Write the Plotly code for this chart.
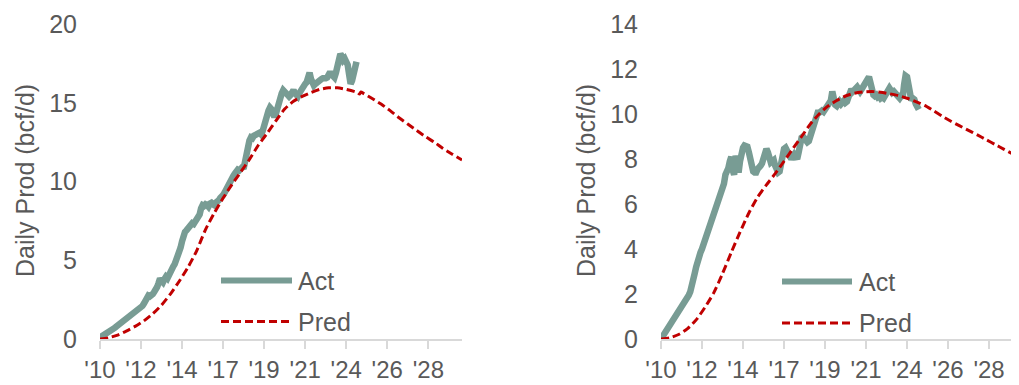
import pandas as pd
import plotly.graph_objects as go

# ---------------- data ----------------
# Left panel: monthly actual production, Jan 2010 .. Aug 2024 (bcf/d)
left_act = [
    0.10, 0.15, 0.20, 0.25, 0.30, 0.35, 0.40, 0.48, 0.55, 0.62, 0.70, 0.78,
    0.85, 0.92, 1.00, 1.08, 1.15, 1.25, 1.35, 1.42, 1.48, 1.50, 1.55, 1.60,
    1.68, 1.75, 1.82, 1.90, 2.00, 2.10, 2.25, 2.45, 2.65, 2.75, 2.70, 2.75,
    2.85, 3.00, 3.10, 3.30, 3.55, 3.85, 3.70, 3.60, 3.80, 3.95, 3.85, 4.10,
    4.30, 4.50, 4.60, 4.75, 4.95, 5.25, 5.50, 5.80, 6.20, 6.60, 6.80, 6.90,
    7.00, 7.15, 7.30, 7.35, 7.30, 7.45, 7.50, 7.60, 7.90, 8.30, 8.50, 8.45,
    8.55, 8.50, 8.40, 8.60, 8.65, 8.55, 8.50, 8.65, 8.70, 8.80, 8.95, 9.00,
    9.15, 9.30, 9.50, 9.70, 9.90, 10.10, 10.30, 10.35, 10.50, 10.70, 10.75, 10.70,
    10.85, 10.90, 10.80, 11.30, 11.90, 12.30, 12.60, 12.80, 12.75, 12.90, 13.00, 12.95,
    13.05, 13.10, 13.00, 13.20, 13.60, 14.00, 14.30, 14.50, 14.70, 14.60, 14.30, 14.10,
    14.30, 14.70, 15.00, 15.30, 15.60, 15.80, 15.70, 15.50, 15.35, 15.40, 15.50, 15.70,
    15.80, 15.60, 15.50, 15.40, 15.60, 15.80, 15.90, 16.00, 16.20, 16.30, 16.50, 16.90,
    16.50, 16.20, 16.10, 16.20, 16.30, 16.40, 16.40, 16.50, 16.55, 16.50, 16.55, 16.60,
    16.80, 16.95, 16.80, 16.70, 16.60, 16.90, 17.40, 17.90, 18.10, 17.95, 17.70, 17.80,
    17.60, 17.40, 16.80, 16.20, 16.40, 16.95, 17.30, 17.60,
]
# Left panel: predicted curve (months since Jan 2010 -> bcf/d)
left_pred_month = [0, 6, 12, 18, 24, 30, 36, 42, 48, 54, 60, 66, 72, 78, 84, 90,
                   96, 102, 108, 114, 120, 126, 132, 138, 144, 150, 156, 162,
                   168, 174, 176, 177, 178, 180, 186, 192, 198, 204, 210, 216,
                   222, 228, 234, 240, 247]
left_pred = [0.0, 0.08, 0.25, 0.50, 0.80, 1.15, 1.60, 2.15, 2.85, 3.65, 4.55,
             5.60, 6.95, 8.00, 8.95, 9.80, 10.60, 11.40, 12.30, 13.05, 13.85,
             14.60, 15.10, 15.40, 15.65, 15.85, 15.95, 15.95, 15.85, 15.70,
             15.62, 15.55, 15.68, 15.58, 15.25, 14.90, 14.50, 14.05, 13.65,
             13.25, 12.85, 12.50, 12.10, 11.75, 11.37]

# Right panel: monthly actual production, Jan 2010 .. Sep 2024 (bcf/d)
right_act = [
    0.00, 0.10, 0.20, 0.30, 0.40, 0.50, 0.60, 0.70, 0.80, 0.90, 1.00, 1.10,
    1.20, 1.30, 1.40, 1.50, 1.60, 1.70, 1.80, 1.95, 2.10, 2.30, 2.60, 2.90,
    3.20, 3.50, 3.70, 3.85, 4.00, 4.20, 4.40, 4.60, 4.80, 5.00, 5.20, 5.40,
    5.50, 5.70, 5.90, 6.10, 6.30, 6.50, 6.60, 6.90, 7.30, 7.40, 7.60, 7.90,
    8.10, 7.50, 7.30, 8.15, 7.70, 7.40, 7.90, 8.30, 8.50, 8.60, 8.60, 8.55,
    8.30, 7.90, 7.60, 7.45, 7.40, 7.40, 7.55, 7.70, 7.70, 7.80, 8.10, 8.40,
    8.45, 8.30, 8.00, 7.85, 7.90, 7.95, 7.70, 7.50, 7.40, 7.45, 7.90, 8.30,
    8.45, 8.50, 8.40, 8.20, 8.05, 8.00, 8.10, 8.20, 8.10, 8.00, 8.30, 8.70,
    8.95, 9.00, 8.90, 8.80, 8.75, 8.80, 9.00, 9.30, 9.60, 9.80, 9.95, 10.05,
    10.05, 10.10, 10.15, 10.10, 10.20, 10.30, 10.35, 10.45, 10.60, 11.00, 10.60, 10.40,
    10.35, 10.50, 10.55, 10.45, 10.50, 10.60, 10.50, 10.55, 10.75, 11.00, 11.10, 11.00,
    11.05, 11.15, 11.20, 11.10, 11.00, 11.10, 11.20, 11.30, 11.35, 11.45, 11.65, 11.40,
    11.00, 10.85, 10.80, 10.85, 10.75, 10.80, 10.70, 10.75, 10.70, 10.80, 10.90, 11.05,
    11.15, 11.05, 10.95, 11.00, 10.90, 10.80, 10.75, 10.70, 10.80, 10.70, 11.30, 11.70,
    11.65, 11.30, 10.80, 10.60, 10.70, 10.65, 10.45, 10.25, 10.20,
]
right_pred_month = [0, 6, 12, 18, 24, 30, 36, 42, 48, 54, 60, 66, 72, 78, 84, 90,
                    96, 102, 108, 114, 120, 126, 132, 138, 144, 150, 156, 162,
                    168, 174, 180, 186, 192, 198, 204, 210, 216, 222, 228, 234,
                    240, 246]
right_pred = [0.0, 0.05, 0.20, 0.45, 0.85, 1.40, 2.05, 2.90, 3.85, 4.75, 5.60,
              6.30, 6.85, 7.35, 7.90, 8.45, 9.00, 9.55, 10.00, 10.35, 10.60,
              10.80, 10.92, 10.98, 11.00, 10.97, 10.90, 10.82, 10.70, 10.55,
              10.38, 10.15, 9.90, 9.68, 9.47, 9.27, 9.07, 8.86, 8.65, 8.44,
              8.23, 8.02]

tick_dates = ["2010-01-01", "2012-05-01", "2014-09-01", "2017-01-01", "2019-05-01",
              "2021-09-01", "2024-01-01", "2026-05-01", "2028-09-01"]
tick_text = ["'10", "'12", "'14", "'17", "'19", "'21", "'24", "'26", "'28"]
left_yticks = [0, 5, 10, 15, 20]
right_yticks = [0, 2, 4, 6, 8, 10, 12, 14]
y_title = "Daily Prod (bcf/d)"
series_names = ["Act", "Pred"]

# ---------------- helpers ----------------
start = pd.Timestamp("2010-01-01")


def month_dates(months):
    return [start + pd.DateOffset(months=int(m)) for m in months]


left_act_x = month_dates(range(len(left_act)))
right_act_x = month_dates(range(len(right_act)))
left_pred_x = month_dates(left_pred_month)
right_pred_x = month_dates(right_pred_month)

# The page body has an 8px default margin: size the figure so it fills the
# window exactly and convert window pixels to figure pixels.
OFF = 8
W, H = 1019 - OFF, 385 - OFF
ACT_COLOR = "#789C94"
PRED_COLOR = "#C00000"
TXT = "#595959"
AXIS = "#D9D9D9"
FONT = "Liberation Sans, Arial, sans-serif"
FS = 25


def px_x(p):
    return (p - OFF) / W


def px_y(p):
    return 1 - (p - OFF) / H


fig = go.Figure()

fig.add_trace(go.Scatter(x=left_act_x, y=left_act, mode="lines", name=series_names[0],
                         line=dict(color=ACT_COLOR, width=6.5), xaxis="x", yaxis="y",
                         showlegend=False))
fig.add_trace(go.Scatter(x=left_pred_x, y=left_pred, mode="lines", name=series_names[1],
                         line=dict(color=PRED_COLOR, width=3, dash="8px,4px",
                                   shape="spline", smoothing=0.6),
                         xaxis="x", yaxis="y", showlegend=False))
fig.add_trace(go.Scatter(x=right_act_x, y=right_act, mode="lines", name=series_names[0],
                         line=dict(color=ACT_COLOR, width=6.5), xaxis="x2", yaxis="y2",
                         showlegend=False))
fig.add_trace(go.Scatter(x=right_pred_x, y=right_pred, mode="lines", name=series_names[1],
                         line=dict(color=PRED_COLOR, width=3, dash="8px,4px",
                                   shape="spline", smoothing=0.6),
                         xaxis="x2", yaxis="y2", showlegend=False))

y_dom = [px_y(339), px_y(24)]

xcommon = dict(type="date", tickmode="array", tickvals=tick_dates, ticktext=tick_text,
               showline=True, linecolor=AXIS, linewidth=2, ticks="outside",
               ticklen=8, tickwidth=2, tickcolor=AXIS, showgrid=False, zeroline=False,
               tickfont=dict(family=FONT, size=24, color=TXT), ticklabelstandoff=0,
               automargin=False, fixedrange=True)
ycommon = dict(showline=False, showgrid=False, zeroline=False, ticks="",
               tickfont=dict(family=FONT, size=FS, color=TXT), ticklabelstandoff=22,
               automargin=False, domain=y_dom, fixedrange=True)

fig.update_layout(
    width=W, height=H,
    margin=dict(l=0, r=0, t=0, b=0),
    paper_bgcolor="white", plot_bgcolor="white",
    xaxis=dict(domain=[px_x(100), px_x(462)], anchor="y",
               range=[start, start + pd.DateOffset(months=247)], **xcommon),
    yaxis=dict(anchor="x", range=[0, 20], tickvals=left_yticks, **ycommon),
    xaxis2=dict(domain=[px_x(661), 1.0], anchor="y2",
                range=[start, start + pd.DateOffset(months=244, days=15)], **xcommon),
    yaxis2=dict(anchor="x2", range=[0, 14], tickvals=right_yticks, **ycommon),
    showlegend=False,
)

# axis titles
for xc in (25, 586):
    fig.add_annotation(x=px_x(xc), y=px_y(181), xref="paper", yref="paper",
                       text=y_title, textangle=-90, showarrow=False,
                       font=dict(family=FONT, size=FS, color=TXT),
                       xanchor="center", yanchor="middle")

# legends (one per panel)
for (x0, x1, ya, yp, xt) in ((221, 292, 280.5, 321.5, 296), (782, 852, 281.5, 323, 857)):
    fig.add_shape(type="line", xref="paper", yref="paper",
                  x0=px_x(x0), x1=px_x(x1), y0=px_y(ya), y1=px_y(ya),
                  line=dict(color=ACT_COLOR, width=6))
    fig.add_shape(type="line", xref="paper", yref="paper",
                  x0=px_x(x0), x1=px_x(x1), y0=px_y(yp), y1=px_y(yp),
                  line=dict(color=PRED_COLOR, width=3, dash="8px,4px"))
    for name, yy in ((series_names[0], ya), (series_names[1], yp)):
        fig.add_annotation(x=px_x(xt), y=px_y(yy), xref="paper", yref="paper",
                           text=name, showarrow=False, xanchor="left", yanchor="middle",
                           font=dict(family=FONT, size=FS, color=TXT))

fig.write_html("out.html")
